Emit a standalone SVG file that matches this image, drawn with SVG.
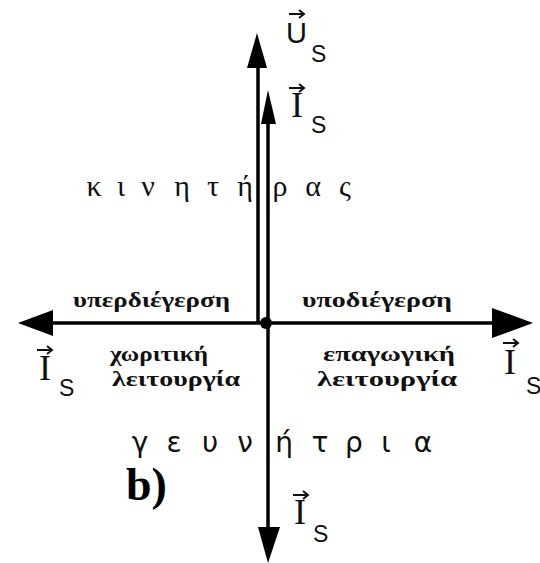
<svg xmlns="http://www.w3.org/2000/svg" width="540" height="563" viewBox="0 0 540 563">
<style>
.ax{stroke:#000;stroke-width:3.5;fill:none}
.hd{fill:#000;stroke:none}
.lbl{font-family:"Liberation Serif","Times New Roman",serif;font-weight:bold;font-size:22px;fill:#111}
.mot{font-family:"Liberation Serif","Times New Roman",serif;font-size:30px;fill:#111}
.gen{font-family:"DejaVu Sans","Liberation Sans",sans-serif;font-size:28px;fill:#111}
.vI{font-family:"Liberation Serif","Times New Roman",serif;font-size:36px;fill:#111}
.vU{font-family:"Liberation Sans",Arial,sans-serif;font-size:29px;fill:#111}
.sub{font-family:"Liberation Sans",Arial,sans-serif;font-size:23px;fill:#111}
.va{stroke:#111;stroke-width:2;fill:none}
.bl{font-family:"Liberation Serif","Times New Roman",serif;font-weight:bold;font-size:46px;fill:#000}
</style>
<rect width="540" height="563" fill="#fff"/>
<g id="connectors">
<line class="ax" x1="50" y1="323" x2="494" y2="323"/>
<polygon class="hd" points="18,323 53,310 53,336"/>
<polygon class="hd" points="533,323 492,308 492,338"/>
<line class="ax" x1="258" y1="323" x2="258" y2="62"/>
<polygon class="hd" points="257,33 247,68 267,68"/>
<line class="ax" x1="268" y1="323" x2="268" y2="120"/>
<polygon class="hd" points="268,90 261,124 276,124"/>
<line class="ax" x1="268" y1="323" x2="268" y2="530"/>
<polygon class="hd" points="268,563 258,527 280,527"/>
<circle cx="266" cy="323" r="6" fill="#000"/>
</g>
<g id="vec-Us">
<path class="va" d="M289,14 H304 M299,10 L304,14 L299,18"/>
<text class="vU" x="286" y="43">U</text>
<text class="sub" x="311" y="62">S</text>
</g>
<g id="vec-Is-up">
<path class="va" d="M289,88 H304 M299,84 L304,88 L299,92"/>
<text class="vI" x="297" y="117" text-anchor="middle">I</text>
<text class="sub" x="311" y="133">S</text>
</g>
<g id="vec-Is-left">
<path class="va" d="M37,350 H52 M47,346 L52,350 L47,354"/>
<text class="vI" x="45" y="380" text-anchor="middle">I</text>
<text class="sub" x="59" y="396">S</text>
</g>
<g id="vec-Is-right">
<path class="va" d="M503,343 H518 M513,339 L518,343 L513,347"/>
<text class="vI" x="510" y="374" text-anchor="middle">I</text>
<text class="sub" x="526" y="394">S</text>
</g>
<g id="vec-Is-down">
<path class="va" d="M293,495 H308 M303,491 L308,495 L303,499"/>
<text class="vI" x="300" y="524" text-anchor="middle">I</text>
<text class="sub" x="313" y="542">S</text>
</g>
<g id="motor">
<text class="mot" y="196" x="94 108 121 133 148 165 182 198 213 230 245 263 280 297 313 330 345" text-anchor="middle">κ ι ν η τ ή ρ α ς</text>
</g>
<g id="generator">
<text class="gen" y="452" x="140 158 174 192 210 227 245 265 284 302 320 337 354 370 386 404 423" text-anchor="middle">γ ε υ ν ή τ ρ ι α</text>
</g>
<g id="over">
<text class="lbl" x="73" y="307" textLength="157" lengthAdjust="spacingAndGlyphs">υπερδιέγερση</text>
</g>
<g id="under">
<text class="lbl" x="302" y="307" textLength="150" lengthAdjust="spacingAndGlyphs">υποδιέγερση</text>
</g>
<g id="capacitive">
<text class="lbl" x="110" y="361" textLength="98" lengthAdjust="spacingAndGlyphs">χωριτική</text>
<text class="lbl" x="112" y="386" textLength="128" lengthAdjust="spacingAndGlyphs">λειτουργία</text>
</g>
<g id="inductive">
<text class="lbl" x="323" y="361" textLength="132" lengthAdjust="spacingAndGlyphs">επαγωγική</text>
<text class="lbl" x="317" y="386" textLength="140" lengthAdjust="spacingAndGlyphs">λειτουργία</text>
</g>
<g id="label-b">
<text class="bl" x="126" y="500">b)</text>
</g>
</svg>
